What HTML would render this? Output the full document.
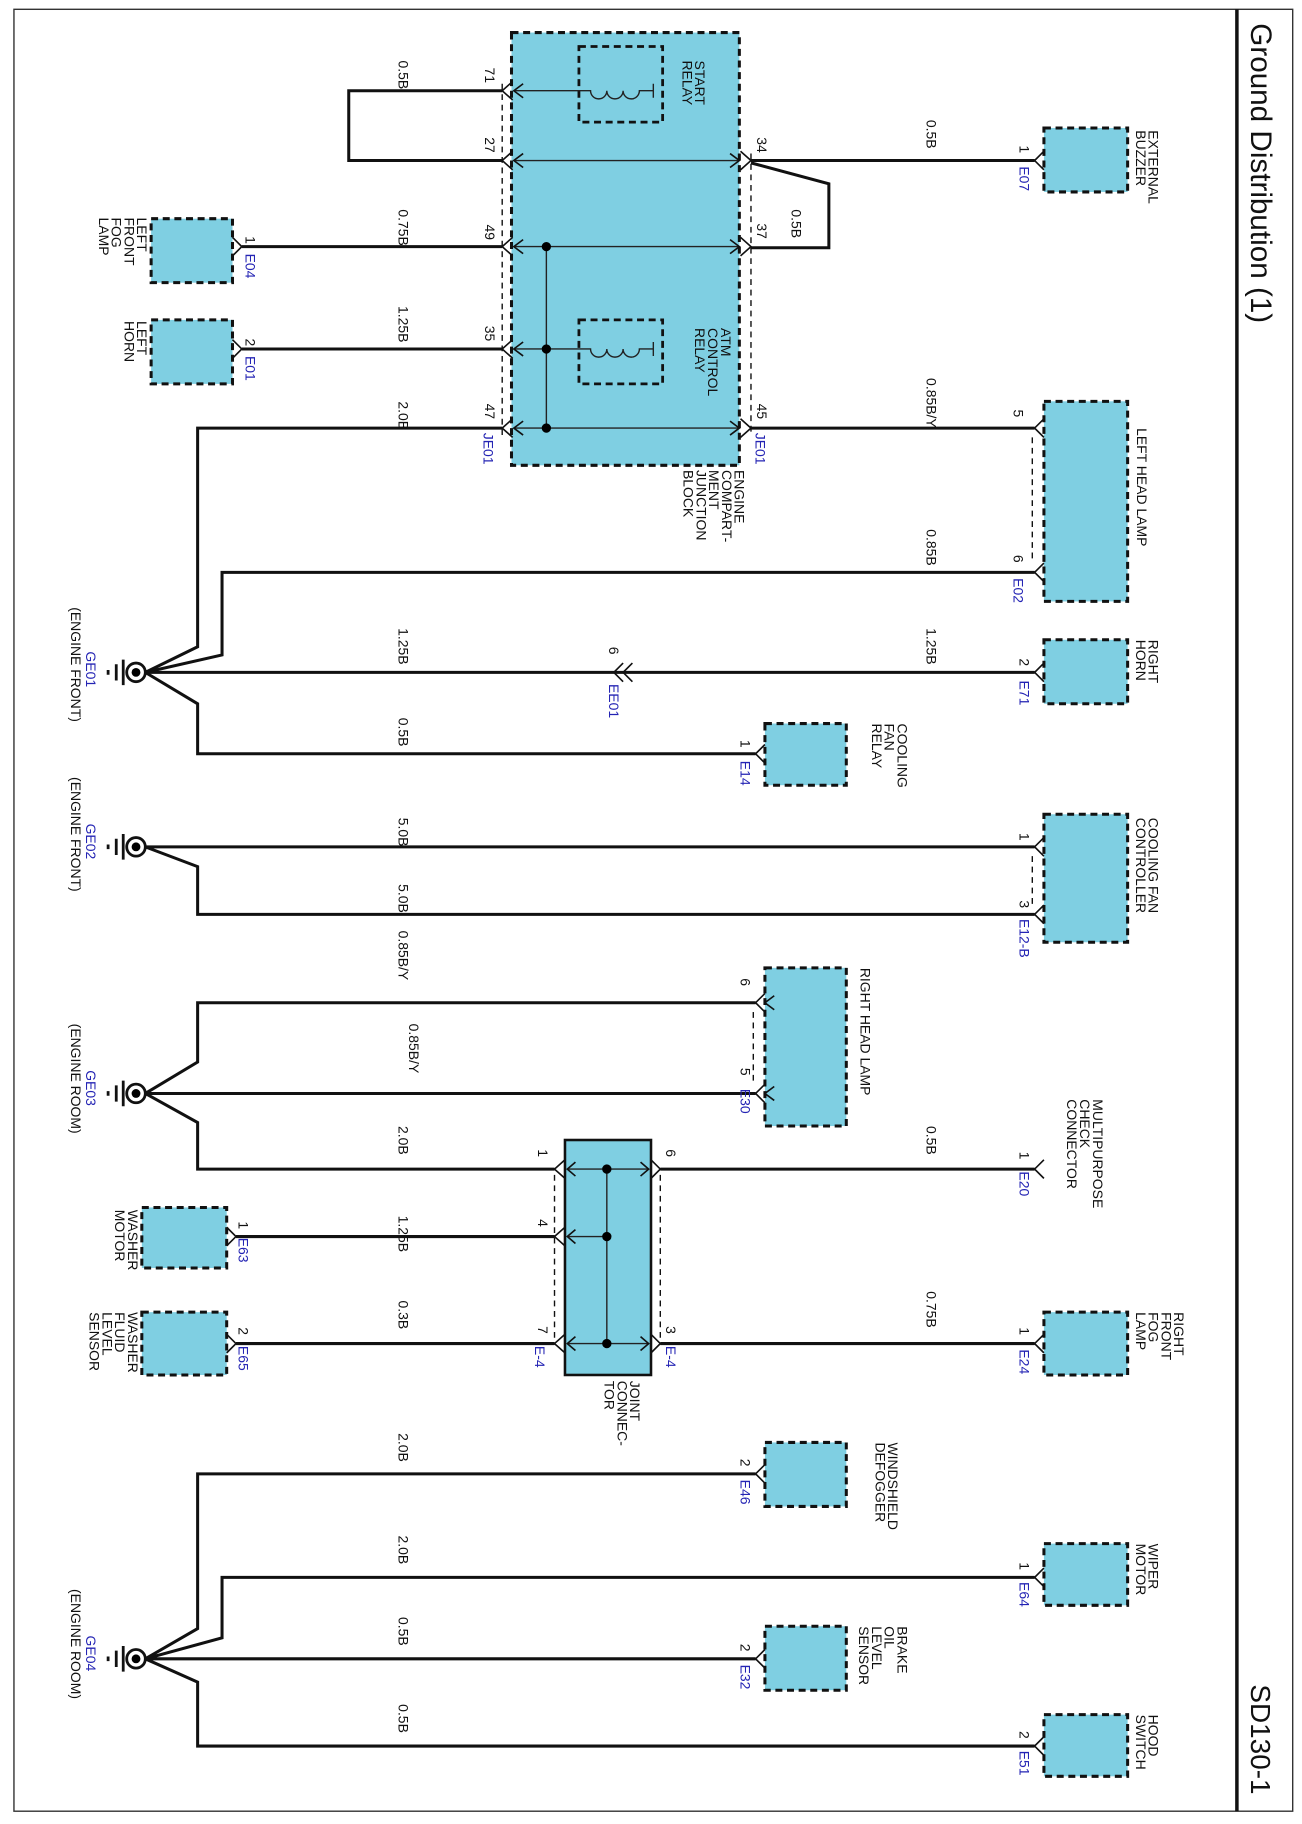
<!DOCTYPE html>
<html><head><meta charset="utf-8"><style>
html,body{margin:0;padding:0;background:#fff;}
svg{display:block}
text{font-family:"Liberation Sans",Arial,sans-serif;font-size:12px;fill:#111}
.b{fill:#2424b4}
.w{fill:none;stroke:#111;stroke-width:2.6}
.t{fill:none;stroke:#222;stroke-width:1.2}
.d{fill:#7fcfe2;stroke:#111;stroke-width:2.6;stroke-dasharray:6 4}
.r{fill:none;stroke:#111;stroke-width:2.4;stroke-dasharray:6 4}
.k{fill:none;stroke:#111;stroke-width:1.2;stroke-dasharray:5 4}
.c{fill:none;stroke:#111;stroke-width:1.4}
</style></head><body>
<svg width="1302" height="1824" viewBox="0 0 1120 1568" preserveAspectRatio="none" xmlns="http://www.w3.org/2000/svg">
<rect x="12" y="8" width="1100" height="1549" fill="none" stroke="#333" stroke-width="1.2"/>
<line x1="1064" y1="8" x2="1064" y2="1557" stroke="#111" stroke-width="3"/>
<g transform="translate(1076,20) rotate(90)"><text style="font-size:25.5px">Ground Distribution (1)</text></g>
<g transform="translate(1076,1448) rotate(90)"><text style="font-size:24px">SD130-1</text></g>

<rect class="d" x="440" y="28" width="196" height="372"/>
<rect class="r" x="498" y="40" width="72" height="65"/>
<rect class="r" x="498" y="275" width="72" height="55"/>
<path class="t" d="M442,78H508 a7,7 0 0 0 14,0 a7,7 0 0 0 14,0 a7,7 0 0 0 14,0 H562 M562,72V84"/>
<path class="t" d="M442,300H508 a7,7 0 0 0 14,0 a7,7 0 0 0 14,0 a7,7 0 0 0 14,0 H562 M562,294V306"/>
<path class="t" d="M442,138H636 M442,212H636 M442,368H636 M470,212V368"/>
<circle cx="470" cy="212" r="4"/><circle cx="470" cy="300" r="4"/><circle cx="470" cy="368" r="4"/>
<line class="k" x1="432" y1="72" x2="432" y2="375"/>
<line class="k" x1="646" y1="132" x2="646" y2="375"/>
<g class="c">
<path d="M441,70L432,78L441,86 M450,72L442,78L450,84"/>
<path d="M441,130L432,138L441,146 M450,132L442,138L450,144"/>
<path d="M441,204L432,212L441,220 M450,206L442,212L450,218"/>
<path d="M441,292L432,300L441,308 M450,294L442,300L450,306"/>
<path d="M441,360L432,368L441,376 M450,362L442,368L450,374"/>
<path d="M637,130L646,138L637,146 M628,132L636,138L628,144"/>
<path d="M637,204L646,212L637,220 M628,206L636,212L628,218"/>
<path d="M637,360L646,368L637,376 M628,362L636,368L628,374"/>
</g>
<g transform="translate(417,58) rotate(90)"><text>71</text></g>
<g transform="translate(417,118) rotate(90)"><text>27</text></g>
<g transform="translate(417,193) rotate(90)"><text>49</text></g>
<g transform="translate(417,280) rotate(90)"><text>35</text></g>
<g transform="translate(417,347) rotate(90)"><text>47</text></g>
<g transform="translate(651,118) rotate(90)"><text>34</text></g>
<g transform="translate(651,192) rotate(90)"><text>37</text></g>
<g transform="translate(651,347) rotate(90)"><text>45</text></g>
<g transform="translate(416,372) rotate(90)"><text class="b">JE01</text></g>
<g transform="translate(650,372) rotate(90)"><text class="b">JE01</text></g>
<g transform="translate(598,52) rotate(90)"><text>START<tspan x="0" dy="11">RELAY</tspan></text></g>
<g transform="translate(620,282) rotate(90)"><text>ATM<tspan x="0" dy="11">CONTROL</tspan><tspan x="0" dy="11">RELAY</tspan></text></g>
<g transform="translate(632,404) rotate(90)"><text>ENGINE<tspan x="0" dy="11">COMPART-</tspan><tspan x="0" dy="11">MENT</tspan><tspan x="0" dy="11">JUNCTION</tspan><tspan x="0" dy="11">BLOCK</tspan></text></g>

<path class="w" d="M432,78H300V138H432"/>
<path class="w" d="M432,212H208 M432,300H208"/>
<path class="w" d="M646,138H890"/>
<path class="w" d="M646,140L713,158V213H646" stroke-width="2"/>
<path class="w" d="M646,368H890"/>
<g transform="translate(343,52) rotate(90)"><text>0.5B</text></g>
<g transform="translate(343,180) rotate(90)"><text>0.75B</text></g>
<g transform="translate(343,263) rotate(90)"><text>1.25B</text></g>
<g transform="translate(343,345) rotate(90)"><text>2.0B</text></g>
<g transform="translate(681,180) rotate(90)"><text>0.5B</text></g>
<g transform="translate(797,103) rotate(90)"><text>0.5B</text></g>
<g transform="translate(797,325) rotate(90)"><text>0.85B/Y</text></g>
<g transform="translate(797,455) rotate(90)"><text>0.85B</text></g>

<rect class="d" x="130" y="188" width="70" height="55"/>
<rect class="d" x="130" y="275" width="70" height="55"/>
<path class="c" d="M200,204L208,212L200,220 M200,292L208,300L200,308"/>
<g transform="translate(211,203) rotate(90)"><text>1</text></g>
<g transform="translate(211,218) rotate(90)"><text class="b">E04</text></g>
<g transform="translate(211,291) rotate(90)"><text>2</text></g>
<g transform="translate(211,306) rotate(90)"><text class="b">E01</text></g>
<g transform="translate(118,187) rotate(90)"><text>LEFT<tspan x="0" dy="11">FRONT</tspan><tspan x="0" dy="11">FOG</tspan><tspan x="0" dy="11">LAMP</tspan></text></g>
<g transform="translate(118,276) rotate(90)"><text>LEFT<tspan x="0" dy="11">HORN</tspan></text></g>

<rect class="d" x="898" y="110" width="72" height="55"/>
<path class="c" d="M898,130L890,138L898,146"/>
<g transform="translate(877,125) rotate(90)"><text>1</text></g>
<g transform="translate(877,143) rotate(90)"><text class="b">E07</text></g>
<g transform="translate(988,112) rotate(90)"><text>EXTERNAL<tspan x="0" dy="11">BUZZER</tspan></text></g>

<rect class="d" x="898" y="345" width="72" height="172"/>
<path class="c" d="M898,360L890,368L898,376 M898,484L890,492L898,500"/>
<line class="k" x1="888" y1="376" x2="888" y2="484"/>
<g transform="translate(872,352) rotate(90)"><text>5</text></g>
<g transform="translate(872,477) rotate(90)"><text>6</text></g>
<g transform="translate(872,497) rotate(90)"><text class="b">E02</text></g>
<g transform="translate(978,368) rotate(90)"><text>LEFT HEAD LAMP</text></g>

<path class="w" d="M432,368H170V556L125,578"/>
<path class="w" d="M890,492H191V563L125,578"/>
<path class="w" d="M125,578H890"/>
<path class="w" d="M125,578L170,605V648H650"/>
<path class="c" d="M536,570L528,578L536,586 M544,570L536,578L544,586"/>
<g transform="translate(524,556) rotate(90)"><text>6</text></g>
<g transform="translate(524,588) rotate(90)"><text class="b">EE01</text></g>
<g transform="translate(343,540) rotate(90)"><text>1.25B</text></g>
<g transform="translate(797,540) rotate(90)"><text>1.25B</text></g>
<rect class="d" x="898" y="550" width="72" height="55"/>
<path class="c" d="M898,570L890,578L898,586"/>
<g transform="translate(877,566) rotate(90)"><text>2</text></g>
<g transform="translate(877,585) rotate(90)"><text class="b">E71</text></g>
<g transform="translate(988,550) rotate(90)"><text>RIGHT<tspan x="0" dy="11">HORN</tspan></text></g>
<g transform="translate(343,617) rotate(90)"><text>0.5B</text></g>
<rect class="d" x="658" y="622" width="70" height="53"/>
<path class="c" d="M658,640L650,648L658,656"/>
<g transform="translate(637,636) rotate(90)"><text>1</text></g>
<g transform="translate(637,654) rotate(90)"><text class="b">E14</text></g>
<g transform="translate(772,622) rotate(90)"><text>COOLING<tspan x="0" dy="11">FAN</tspan><tspan x="0" dy="11">RELAY</tspan></text></g>

<path class="w" d="M125,728H890 M125,728L170,745V786H890"/>
<g transform="translate(343,703) rotate(90)"><text>5.0B</text></g>
<g transform="translate(343,760) rotate(90)"><text>5.0B</text></g>
<rect class="d" x="898" y="700" width="72" height="110"/>
<path class="c" d="M898,720L890,728L898,736 M898,778L890,786L898,794"/>
<line class="k" x1="888" y1="736" x2="888" y2="778"/>
<g transform="translate(877,716) rotate(90)"><text>1</text></g>
<g transform="translate(877,774) rotate(90)"><text>3</text></g>
<g transform="translate(877,790) rotate(90)"><text class="b">E12-B</text></g>
<g transform="translate(988,703) rotate(90)"><text>COOLING FAN<tspan x="0" dy="11">CONTROLLER</tspan></text></g>

<path class="w" d="M125,940L170,913V862H650 M125,940H650 M125,940L170,965V1005H477"/>
<g transform="translate(343,800) rotate(90)"><text>0.85B/Y</text></g>
<g transform="translate(352,880) rotate(90)"><text>0.85B/Y</text></g>
<rect class="d" x="658" y="832" width="70" height="136"/>
<path class="c" d="M658,854L650,862L658,870 M658,932L650,940L658,948 M666,856L658,862L666,868 M666,934L658,940L666,946"/>
<line class="k" x1="648" y1="870" x2="648" y2="932"/>
<g transform="translate(637,841) rotate(90)"><text>6</text></g>
<g transform="translate(637,918) rotate(90)"><text>5</text></g>
<g transform="translate(637,936) rotate(90)"><text class="b">E30</text></g>
<g transform="translate(740,832) rotate(90)"><text>RIGHT HEAD LAMP</text></g>

<rect x="486" y="980" width="74" height="202" fill="#7fcfe2" stroke="#111" stroke-width="2.2"/>
<path class="t" d="M488,1005H558 M488,1063H522 M488,1155H558 M522,1005V1155"/>
<circle cx="522" cy="1005" r="4"/><circle cx="522" cy="1063" r="4"/><circle cx="522" cy="1155" r="4"/>
<line class="k" x1="477" y1="1010" x2="477" y2="1150"/>
<line class="k" x1="568" y1="1010" x2="568" y2="1150"/>
<g class="c">
<path d="M486,997L477,1005L486,1013 M495,999L488,1005L495,1011"/>
<path d="M486,1055L477,1063L486,1071 M495,1057L488,1063L495,1069"/>
<path d="M486,1147L477,1155L486,1163 M495,1149L488,1155L495,1161"/>
<path d="M560,997L568,1005L560,1013 M551,999L558,1005L551,1011"/>
<path d="M560,1147L568,1155L560,1163 M551,1149L558,1155L551,1161"/>
</g>
<g transform="translate(463,988) rotate(90)"><text>1</text></g>
<g transform="translate(463,1048) rotate(90)"><text>4</text></g>
<g transform="translate(463,1140) rotate(90)"><text>7</text></g>
<g transform="translate(460,1157) rotate(90)"><text class="b">E-4</text></g>
<g transform="translate(573,988) rotate(90)"><text>6</text></g>
<g transform="translate(573,1140) rotate(90)"><text>3</text></g>
<g transform="translate(573,1157) rotate(90)"><text class="b">E-4</text></g>
<g transform="translate(542,1187) rotate(90)"><text>JOINT<tspan x="0" dy="11">CONNEC-</tspan><tspan x="0" dy="11">TOR</tspan></text></g>
<path class="w" d="M568,1005H890 M477,1063H203 M477,1155H203 M568,1155H890"/>
<g transform="translate(343,968) rotate(90)"><text>2.0B</text></g>
<g transform="translate(343,1045) rotate(90)"><text>1.25B</text></g>
<g transform="translate(343,1118) rotate(90)"><text>0.3B</text></g>
<g transform="translate(797,968) rotate(90)"><text>0.5B</text></g>
<g transform="translate(797,1110) rotate(90)"><text>0.75B</text></g>
<path class="c" d="M898,997L890,1005L898,1013"/>
<g transform="translate(877,990) rotate(90)"><text>1</text></g>
<g transform="translate(877,1007) rotate(90)"><text class="b">E20</text></g>
<g transform="translate(940,945) rotate(90)"><text>MULTIPURPOSE<tspan x="0" dy="11">CHECK</tspan><tspan x="0" dy="11">CONNECTOR</tspan></text></g>
<rect class="d" x="898" y="1128" width="72" height="54"/>
<path class="c" d="M898,1147L890,1155L898,1163"/>
<g transform="translate(877,1141) rotate(90)"><text>1</text></g>
<g transform="translate(877,1160) rotate(90)"><text class="b">E24</text></g>
<g transform="translate(1010,1128) rotate(90)"><text>RIGHT<tspan x="0" dy="11">FRONT</tspan><tspan x="0" dy="11">FOG</tspan><tspan x="0" dy="11">LAMP</tspan></text></g>
<rect class="d" x="122" y="1038" width="73" height="52"/>
<rect class="d" x="122" y="1128" width="73" height="54"/>
<path class="c" d="M195,1055L203,1063L195,1071 M195,1147L203,1155L195,1163"/>
<g transform="translate(205,1050) rotate(90)"><text>1</text></g>
<g transform="translate(205,1064) rotate(90)"><text class="b">E63</text></g>
<g transform="translate(205,1141) rotate(90)"><text>2</text></g>
<g transform="translate(205,1157) rotate(90)"><text class="b">E65</text></g>
<g transform="translate(110,1040) rotate(90)"><text>WASHER<tspan x="0" dy="11">MOTOR</tspan></text></g>
<g transform="translate(110,1128) rotate(90)"><text>WASHER<tspan x="0" dy="11">FLUID</tspan><tspan x="0" dy="11">LEVEL</tspan><tspan x="0" dy="11">SENSOR</tspan></text></g>

<path class="w" d="M125,1426L170,1400V1267H650 M125,1426L191,1408V1356H890 M125,1426H650 M125,1426L170,1446V1501H890"/>
<g transform="translate(343,1232) rotate(90)"><text>2.0B</text></g>
<g transform="translate(343,1320) rotate(90)"><text>2.0B</text></g>
<g transform="translate(343,1390) rotate(90)"><text>0.5B</text></g>
<g transform="translate(343,1465) rotate(90)"><text>0.5B</text></g>
<rect class="d" x="658" y="1240" width="70" height="55"/>
<rect class="d" x="658" y="1398" width="70" height="55"/>
<rect class="d" x="898" y="1327" width="72" height="53"/>
<rect class="d" x="898" y="1474" width="72" height="53"/>
<path class="c" d="M658,1259L650,1267L658,1275 M658,1418L650,1426L658,1434 M898,1348L890,1356L898,1364 M898,1493L890,1501L898,1509"/>
<g transform="translate(637,1254) rotate(90)"><text>2</text></g>
<g transform="translate(637,1272) rotate(90)"><text class="b">E46</text></g>
<g transform="translate(637,1413) rotate(90)"><text>2</text></g>
<g transform="translate(637,1431) rotate(90)"><text class="b">E32</text></g>
<g transform="translate(877,1343) rotate(90)"><text>1</text></g>
<g transform="translate(877,1360) rotate(90)"><text class="b">E64</text></g>
<g transform="translate(877,1488) rotate(90)"><text>2</text></g>
<g transform="translate(877,1505) rotate(90)"><text class="b">E51</text></g>
<g transform="translate(764,1240) rotate(90)"><text>WINDSHIELD<tspan x="0" dy="11">DEFOGGER</tspan></text></g>
<g transform="translate(772,1398) rotate(90)"><text>BRAKE<tspan x="0" dy="11">OIL</tspan><tspan x="0" dy="11">LEVEL</tspan><tspan x="0" dy="11">SENSOR</tspan></text></g>
<g transform="translate(988,1327) rotate(90)"><text>WIPER<tspan x="0" dy="11">MOTOR</tspan></text></g>
<g transform="translate(988,1474) rotate(90)"><text>HOOD<tspan x="0" dy="11">SWITCH</tspan></text></g>

<g transform="translate(0,578)"><circle cx="117" cy="0" r="8" fill="#fff" stroke="#111" stroke-width="2.4"/><circle cx="117" cy="0" r="3.8"/><path d="M106,-11V11 M100,-7V7 M93,-2V2" stroke="#111" stroke-width="2.4"/></g>
<g transform="translate(0,728)"><circle cx="117" cy="0" r="8" fill="#fff" stroke="#111" stroke-width="2.4"/><circle cx="117" cy="0" r="3.8"/><path d="M106,-11V11 M100,-7V7 M93,-2V2" stroke="#111" stroke-width="2.4"/></g>
<g transform="translate(0,940)"><circle cx="117" cy="0" r="8" fill="#fff" stroke="#111" stroke-width="2.4"/><circle cx="117" cy="0" r="3.8"/><path d="M106,-11V11 M100,-7V7 M93,-2V2" stroke="#111" stroke-width="2.4"/></g>
<g transform="translate(0,1426)"><circle cx="117" cy="0" r="8" fill="#fff" stroke="#111" stroke-width="2.4"/><circle cx="117" cy="0" r="3.8"/><path d="M106,-11V11 M100,-7V7 M93,-2V2" stroke="#111" stroke-width="2.4"/></g>
<g transform="translate(74,560) rotate(90)"><text class="b">GE01</text></g>
<g transform="translate(61,522) rotate(90)"><text>(ENGINE FRONT)</text></g>
<g transform="translate(74,708) rotate(90)"><text class="b">GE02</text></g>
<g transform="translate(61,668) rotate(90)"><text>(ENGINE FRONT)</text></g>
<g transform="translate(74,920) rotate(90)"><text class="b">GE03</text></g>
<g transform="translate(61,880) rotate(90)"><text>(ENGINE ROOM)</text></g>
<g transform="translate(74,1406) rotate(90)"><text class="b">GE04</text></g>
<g transform="translate(61,1366) rotate(90)"><text>(ENGINE ROOM)</text></g>
</svg>
</body></html>
